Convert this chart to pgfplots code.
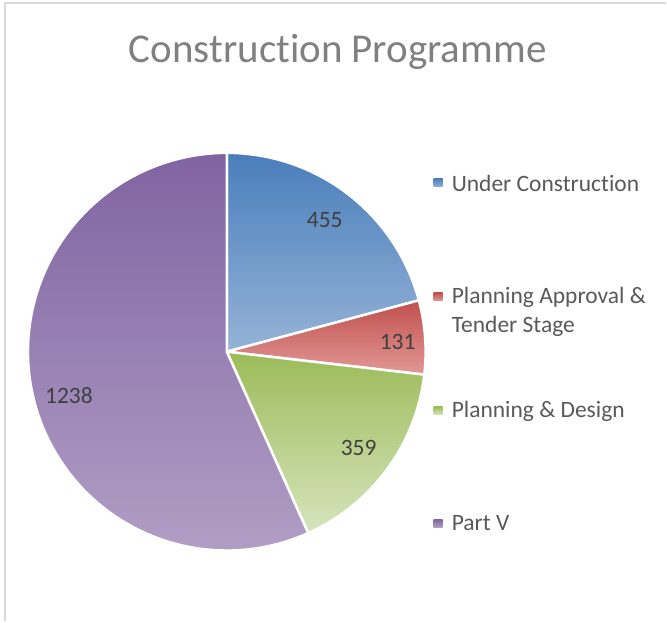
\documentclass[border=0pt]{standalone}
\usepackage{fontspec}
\setmainfont{Carlito}[Ligatures={NoCommon}]
\usepackage{pgfplots}
\usepackage{pgfplotstable}
\pgfplotsset{compat=1.18}
\definecolor{bT}{RGB}{74,126,187}
\definecolor{bB}{RGB}{149,179,215}
\definecolor{rT}{RGB}{192,80,77}
\definecolor{rB}{RGB}{226,152,150}
\definecolor{gT}{RGB}{155,187,89}
\definecolor{gB}{RGB}{215,228,189}
\definecolor{pT}{RGB}{128,100,162}
\definecolor{pB}{RGB}{179,162,199}
\definecolor{titlegray}{RGB}{128,128,128}
\definecolor{leggray}{RGB}{89,89,89}
\definecolor{labgray}{RGB}{64,64,64}
\definecolor{framegray}{RGB}{217,217,217}

\pgfplotstableread{
label value
UnderConstruction 455
PlanningApproval 131
PlanningDesign 359
PartV 1238
}\piedata

\pgfplotstablegetelem{0}{value}\of\piedata \let\vA\pgfplotsretval
\pgfplotstablegetelem{1}{value}\of\piedata \let\vB\pgfplotsretval
\pgfplotstablegetelem{2}{value}\of\piedata \let\vC\pgfplotsretval
\pgfplotstablegetelem{3}{value}\of\piedata \let\vD\pgfplotsretval
\pgfmathsetmacro\tot{\vA+\vB+\vC+\vD}
\pgfmathsetmacro\aA{90}
\pgfmathsetmacro\aB{\aA-360*(\vA/\tot)}
\pgfmathsetmacro\aC{\aB-360*(\vB/\tot)}
\pgfmathsetmacro\aD{\aC-360*(\vC/\tot)}
\pgfmathsetmacro\aE{\aD-360*(\vD/\tot)}

\newcommand\pieslice[4]{%
  \path[top color=#3,bottom color=#4,draw=white,line width=2.5bp,line join=round]
    (axis cs:227,352) -- (axis cs:{227+199*cos(#1)},{352-199*sin(#1)})
    arc[start angle=#1,end angle=#2,radius=199bp] -- cycle;}
\newcommand\legsq[3]{%
  \path[top color=#2,bottom color=#3] (axis cs:434,{#1-4}) rectangle (axis cs:443,{#1+4});}

\begin{document}
\begin{tikzpicture}
\begin{axis}[
  hide axis, scale only axis,
  width=667bp, height=622bp,
  xmin=0, xmax=667, ymin=0, ymax=622,
  y dir=reverse, clip=false,
]
\path (axis cs:0,0) rectangle (axis cs:667,622);
\draw[framegray, line width=1.2bp] (axis cs:5,622) -- (axis cs:5,3) -- (axis cs:667,3);

\node[anchor=base, inner sep=0pt, text=titlegray, font=\fontsize{41bp}{48bp}\selectfont]
  at (axis cs:338,63) {Construction Programme};

\pieslice{\aA}{\aB}{bT}{bB}
\pieslice{\aB}{\aC}{rT}{rB}
\pieslice{\aC}{\aD}{gT}{gB}
\pieslice{\aD}{\aE}{pT}{pB}

\begin{scope}[every node/.style={text=labgray, font=\fontsize{23.5bp}{28bp}\selectfont}]
\node at (axis cs:325,220) {455};
\node at (axis cs:398,342) {131};
\node at (axis cs:359,448) {359};
\node at (axis cs:69,396) {1238};
\end{scope}

\legsq{183}{bT}{bB}
\legsq{297}{rT}{rB}
\legsq{411}{gT}{gB}
\legsq{524}{pT}{pB}
\begin{scope}[every node/.style={anchor=base west, inner sep=0pt, text=leggray, font=\fontsize{23.5bp}{28bp}\selectfont}]
\node at (axis cs:452,191.5) {Under Construction};
\node at (axis cs:452,304) {Planning Approval \&};
\node at (axis cs:452,333) {Tender Stage};
\node at (axis cs:452,418) {Planning \& Design};
\node at (axis cs:452,531) {Part V};
\end{scope}
\end{axis}
\end{tikzpicture}
\end{document}
